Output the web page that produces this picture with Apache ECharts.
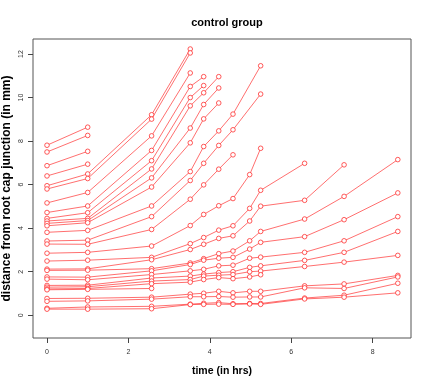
<!DOCTYPE html>
<html>
<head>
<meta charset="utf-8">
<script src="https://cdn.jsdelivr.net/npm/echarts@6/dist/echarts.min.js"></script>
<style>
  html, body { margin: 0; padding: 0; background: #fff; }
  #main { width: 429px; height: 388px; }
</style>
</head>
<body>
<div id="main"></div>
<script>
// measurement times (in hrs)
const times = [0, 1, 2.57, 3.52, 3.85, 4.22, 4.57, 4.98, 5.25, 6.33, 7.3, 8.62];

// distance of each mark from the root cap junction (mm), null = not measured
const mark01 = [7.81, 8.64, null, null, null, null, null, null, null, null, null, null];
const mark02 = [7.50, 8.26, null, null, null, null, null, null, null, null, null, null];
const mark03 = [6.87, 7.53, null, null, null, null, null, null, null, null, null, null];
const mark04 = [6.40, 6.94, null, null, null, null, null, null, null, null, null, null];
const mark05 = [5.95, 6.49, 9.21, 12.23, null, null, null, null, null, null, null, null];
const mark06 = [5.80, 6.28, 9.01, 12.05, null, null, null, null, null, null, null, null];
const mark07 = [5.16, 5.64, 8.24, 11.13, null, null, null, null, null, null, null, null];
const mark08 = [4.72, 5.02, 7.57, 10.51, 10.96, null, null, null, null, null, null, null];
const mark09 = [4.45, 4.71, 7.10, 10.00, 10.55, null, null, null, null, null, null, null];
const mark10 = [4.33, 4.45, 6.72, 9.62, 10.22, 10.96, null, null, null, null, null, null];
const mark11 = [4.22, 4.35, 6.31, 8.60, 9.68, 10.44, null, null, null, null, null, null];
const mark12 = [4.11, 4.25, 5.89, 7.92, 9.02, 9.75, null, null, null, null, null, null];
const mark13 = [3.81, 3.90, 5.02, 6.60, 7.75, 8.47, 9.24, null, 11.46, null, null, null];
const mark14 = [3.41, 3.45, 4.53, 6.19, 6.98, 7.80, 8.52, null, 10.16, null, null, null];
const mark15 = [3.27, 3.26, 3.94, 5.33, 5.99, 6.71, 7.37, null, null, null, null, null];
const mark16 = [2.85, 2.89, 3.18, 4.12, 4.63, 5.03, 5.36, 6.46, 7.67, null, null, null];
const mark17 = [2.49, 2.53, 2.66, 3.29, 3.57, 3.91, 4.11, 4.91, 5.74, 6.98, null, null];
const mark18 = [2.12, 2.13, 2.55, 3.02, 3.26, 3.53, 3.65, 4.33, 5.01, 5.28, 6.91, null];
const mark19 = [2.06, 2.07, 2.14, 2.40, 2.60, 2.83, 2.95, 3.42, 3.85, 4.42, 5.46, 7.15];
const mark20 = [1.76, 1.75, 2.04, 2.33, 2.53, 2.62, 2.66, 3.04, 3.35, 3.61, 4.39, 5.62];
const mark21 = [1.66, 1.63, 1.87, 2.04, 2.11, 2.27, 2.30, 2.62, 2.67, 2.89, 3.42, 4.53];
const mark22 = [1.37, 1.38, 1.71, 1.80, 1.89, 1.96, 2.00, 2.20, 2.27, 2.52, 2.89, 3.85];
const mark23 = [1.29, 1.31, 1.57, 1.64, 1.80, 1.84, 1.87, 2.00, 2.03, 2.24, 2.44, 2.75];
const mark24 = [1.21, 1.23, 1.45, 1.52, 1.64, 1.73, 1.68, 1.76, 1.86, null, null, null];
const mark25 = [1.17, 1.19, 1.23, null, null, null, null, null, null, null, null, null];
const mark26 = [0.77, 0.78, 0.83, 0.97, 1.01, 1.10, 1.03, 1.10, 1.10, 1.35, 1.44, 1.83];
const mark27 = [0.64, 0.66, 0.74, 0.85, 0.85, 0.86, 0.83, 0.84, 0.84, 1.26, 1.23, 1.76];
const mark28 = [0.32, 0.38, 0.41, 0.51, 0.55, 0.58, 0.53, 0.54, 0.54, 0.79, 0.92, 1.47];
const mark29 = [0.28, 0.28, 0.30, 0.49, 0.50, 0.51, 0.50, 0.52, 0.50, 0.75, 0.83, 1.03];

const marks = [mark01, mark02, mark03, mark04, mark05, mark06, mark07, mark08, mark09, mark10,
  mark11, mark12, mark13, mark14, mark15, mark16, mark17, mark18, mark19, mark20,
  mark21, mark22, mark23, mark24, mark25, mark26, mark27, mark28, mark29];

const xTicks = [0, 2, 4, 6, 8];
const yTicks = [0, 2, 4, 6, 8, 10, 12];

var myChart = echarts.init(document.getElementById('main'));

// one line per mark, skipping the times where it was not measured
const series = marks.map(function (m) {
  return {
    type: 'line',
    data: times.map((t, i) => m[i] == null ? null : [t, m[i]]).filter(p => p),
    symbol: 'circle',
    symbolSize: 4.6,
    lineStyle: { color: '#ff3030', width: 0.7 },
    itemStyle: { color: '#fff', borderColor: '#ff3030', borderWidth: 0.8 },
    emphasis: { disabled: true },
    silent: true
  };
});

const font = 'Liberation Sans, Arial, sans-serif';

myChart.setOption({
  animation: false,
  title: {
    text: 'control group',
    left: 222,
    top: 12,
    textAlign: 'center',
    textStyle: { fontFamily: font, fontSize: 11, fontWeight: 'bold', color: '#000' }
  },
  grid: {
    left: 33, top: 39, width: 378, height: 299,
    outerBoundsMode: 'none',
    containLabel: false,
    show: true, borderColor: '#555', borderWidth: 1
  },
  xAxis: {
    type: 'value',
    min: -0.344, max: 8.944,
    axisLine: { show: false, onZero: false },
    axisTick: { show: true, inside: false, customValues: xTicks, length: 5, lineStyle: { color: '#444' } },
    axisLabel: { customValues: xTicks, fontFamily: font, fontSize: 7, color: '#333', margin: 11 },
    splitLine: { show: false },
    name: 'time (in hrs)',
    nameLocation: 'middle',
    nameGap: 28,
    nameMoveOverlap: false,
    nameTextStyle: { fontFamily: font, fontSize: 10.5, fontWeight: 'bold', color: '#000' }
  },
  yAxis: {
    type: 'value',
    min: -1.045, max: 12.69,
    axisLine: { show: false, onZero: false },
    axisTick: { show: true, inside: false, customValues: yTicks, length: 5, lineStyle: { color: '#444' } },
    axisLabel: { customValues: yTicks, rotate: 90, fontFamily: font, fontSize: 7, color: '#333', margin: 8 },
    splitLine: { show: false },
    name: 'distance from root cap junction (in mm)',
    nameLocation: 'middle',
    nameGap: 20,
    nameRotate: 90,
    nameMoveOverlap: false,
    nameTextStyle: { fontFamily: font, fontSize: 12, fontWeight: 'bold', color: '#000' }
  },
  series: series
});
</script>
</body>
</html>
